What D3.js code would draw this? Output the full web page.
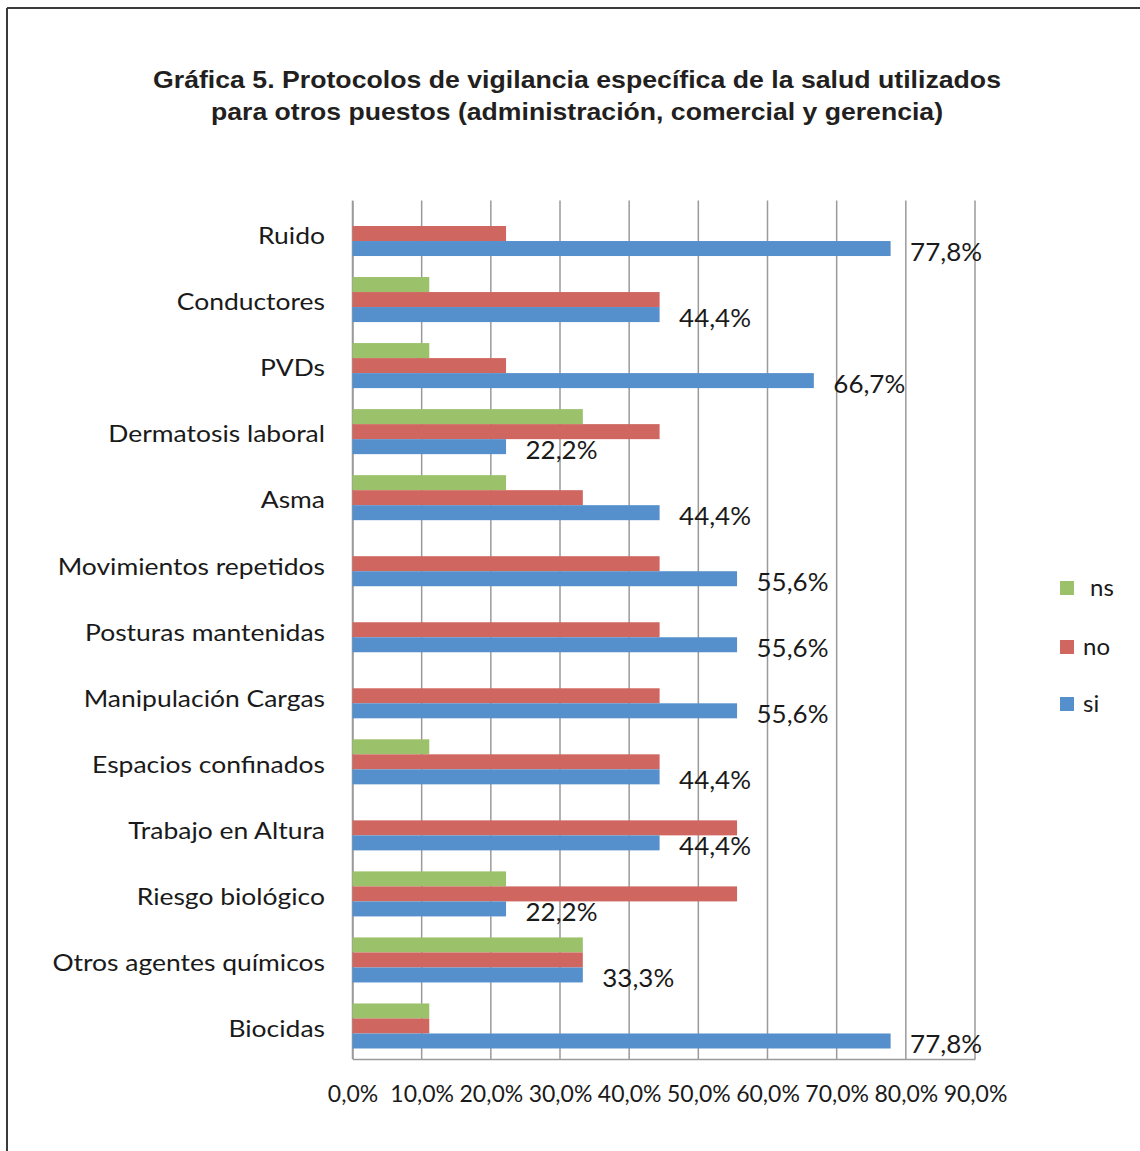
<!DOCTYPE html>
<html>
<head>
<meta charset="utf-8">
<script src="https://cdn.jsdelivr.net/npm/d3@7"></script>
<style>
    body { margin: 0; background: #fff; }
    svg { display: block; }
</style>
</head>
<body>
<svg width="1140" height="1151"></svg>
<script>
const width = 1140;
const height = 1151;

// Chart data
const categories = [
    "Ruido", "Conductores", "PVDs", "Dermatosis laboral", "Asma",
    "Movimientos repetidos", "Posturas mantenidas", "Manipulación Cargas",
    "Espacios confinados", "Trabajo en Altura", "Riesgo biológico",
    "Otros agentes químicos", "Biocidas"
];
const seriesNames = ["ns", "no", "si"];
const nsValues = [0, 11.1, 11.1, 33.3, 22.2, 0, 0, 0, 11.1, 0, 22.2, 33.3, 11.1];
const noValues = [22.2, 44.4, 22.2, 44.4, 33.3, 44.4, 44.4, 44.4, 44.4, 55.6, 55.6, 33.3, 11.1];
const siValues = [77.8, 44.4, 66.7, 22.2, 44.4, 55.6, 55.6, 55.6, 44.4, 44.4, 22.2, 33.3, 77.8];
const xTicks = [0, 10, 20, 30, 40, 50, 60, 70, 80, 90];
const titleLines = [
    "Gráfica 5. Protocolos de vigilancia específica de la salud utilizados",
    "para otros puestos (administración, comercial y gerencia)"
];

const colours = { ns: "#9bc16b", no: "#cf6660", si: "#5690cc" };
const labelFont = "Lato, 'Open Sans', sans-serif";

const plot = { left: 352.5, right: 975, top: 200.5, bottom: 1059 };

const svg = d3.select("svg");

// widen glyphs a little, the original font is broader than Lato
function stretch(selection, factor) {
    selection.each(function () {
        const w = this.getComputedTextLength();
        d3.select(this)
            .attr("textLength", w * factor)
            .attr("lengthAdjust", "spacingAndGlyphs");
    });
}

// outer frame (only top and left edges show)
svg.append("line").attr("x1", 7).attr("x2", width).attr("y1", 8).attr("y2", 8)
    .attr("stroke", "#3a3a3a").attr("stroke-width", 2);
svg.append("line").attr("x1", 7).attr("x2", 7).attr("y1", 8).attr("y2", height)
    .attr("stroke", "#3a3a3a").attr("stroke-width", 2);

// title
const titleWidths = [848, 732];
titleLines.forEach((t, i) => {
    svg.append("text")
        .attr("x", 577)
        .attr("y", 88 + i * 32)
        .attr("text-anchor", "middle")
        .attr("textLength", titleWidths[i])
        .attr("lengthAdjust", "spacingAndGlyphs")
        .style("font-family", "'Liberation Sans', Arial, sans-serif")
        .style("font-weight", "bold")
        .style("font-size", "24px")
        .style("fill", "#231f20")
        .text(t);
});

const x = d3.scaleLinear().domain([0, 90]).range([plot.left, plot.right]);
const y = d3.scaleBand().domain(categories).range([plot.top, plot.bottom]).paddingInner(0).paddingOuter(0);
const ySub = d3.scaleBand().domain(seriesNames).range([0, y.bandwidth()]).paddingInner(0).paddingOuter(0.7);

// gridlines
svg.append("g")
    .selectAll("line")
    .data(xTicks)
    .enter()
    .append("line")
    .attr("x1", d => x(d)).attr("x2", d => x(d))
    .attr("y1", plot.top).attr("y2", plot.bottom)
    .attr("stroke", "#9a9a9a")
    .attr("stroke-width", 1.5);

// bottom axis
const xAxis = d3.axisBottom(x)
    .tickValues(xTicks)
    .tickSize(0)
    .tickPadding(27)
    .tickFormat(d => d3.format(".1f")(d).replace(".", ",") + "%");

const axisG = svg.append("g")
    .attr("transform", "translate(0," + plot.bottom + ")")
    .call(xAxis);
axisG.select(".domain").attr("stroke", "#9a9a9a").attr("stroke-width", 1.5);
axisG.selectAll("text")
    .style("font-family", labelFont)
    .style("font-size", "23px")
    .style("fill", "#1a1a1a");

// left axis (category labels)
const yAxis = d3.axisLeft(y).tickSize(0).tickPadding(27.5);
const yG = svg.append("g")
    .attr("transform", "translate(" + plot.left + ",0)")
    .call(yAxis);
yG.select(".domain").attr("stroke", "#9a9a9a").attr("stroke-width", 1.5);
yG.selectAll("text")
    .attr("dy", "0.47em")
    .style("font-family", labelFont)
    .style("font-size", "23px")
    .style("fill", "#1a1a1a")
    .call(stretch, 1.15);

// bars
const rows = categories.map((c, i) => ({
    name: c, ns: nsValues[i], no: noValues[i], si: siValues[i]
}));

const group = svg.append("g")
    .selectAll("g")
    .data(rows)
    .enter()
    .append("g")
    .attr("transform", d => "translate(0," + y(d.name) + ")");

group.selectAll("rect")
    .data(d => seriesNames.map(s => ({ key: s, value: d[s] })))
    .enter()
    .append("rect")
    .attr("x", x(0))
    .attr("y", d => ySub(d.key))
    .attr("width", d => x(d.value) - x(0))
    .attr("height", ySub.bandwidth())
    .attr("fill", d => colours[d.key]);

// value labels for the "si" series
group.append("text")
    .attr("x", d => x(d.si) + 19.5)
    .attr("y", d => ySub("si") + ySub.bandwidth() / 2 + 3.5)
    .attr("dy", "0.35em")
    .style("font-family", labelFont)
    .style("font-size", "24.5px")
    .style("fill", "#1a1a1a")
    .text(d => d3.format(".1f")(d.si).replace(".", ",") + "%")
    .call(stretch, 1.06);

// legend
const legendY = { ns: 588, no: 647, si: 704 };
const legendTextX = { ns: 1090, no: 1083, si: 1083 };
const legend = svg.append("g");
seriesNames.forEach(s => {
    legend.append("rect")
        .attr("x", 1060)
        .attr("y", legendY[s] - 7)
        .attr("width", 14)
        .attr("height", 14)
        .attr("fill", colours[s]);
    legend.append("text")
        .attr("x", legendTextX[s])
        .attr("y", legendY[s])
        .attr("dy", "0.35em")
        .style("font-family", labelFont)
        .style("font-size", "24px")
        .style("fill", "#1a1a1a")
        .text(s);
});
</script>
</body>
</html>
